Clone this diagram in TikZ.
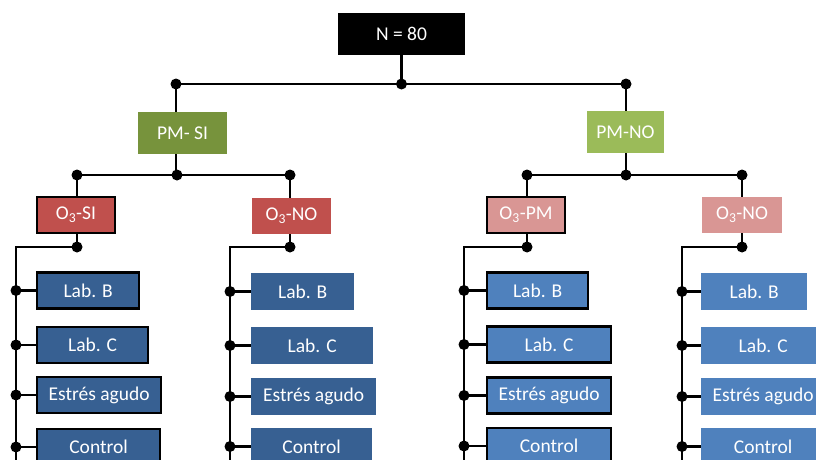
\documentclass[tikz,border=0pt]{standalone}
\usepackage{fontspec}
\setmainfont{Carlito}
\usetikzlibrary{backgrounds}
\definecolor{pmsi}{HTML}{77933C}
\definecolor{pmno}{HTML}{9BBB59}
\definecolor{ozdark}{HTML}{C0504D}
\definecolor{ozlight}{HTML}{D99694}
\definecolor{labdark}{HTML}{376092}
\definecolor{lablight}{HTML}{4F81BD}
\tikzset{box/.style = {text=white, inner sep=0pt, minimum height=36pt,
                       font=\fontsize{19.5}{23}\selectfont},
         edged/.style = {draw=black, line width=2.2pt},
         labbox/.style = {box, anchor=west},
         link/.style = {line width=2.4pt},
         dot/.style = {fill=black}}

\begin{document}
\begin{tikzpicture}[x=1pt,y=-1pt]
\useasboundingbox (0,0) rectangle (816,460);

% top
\node[box, fill=black, minimum width=127pt, minimum height=42pt] (root) at (401.5,34) {N = 80};
\coordinate (j0) at (401.5,84);
\coordinate (jl) at (176,84);
\coordinate (jr) at (626,84);

\node[box, fill=pmsi, minimum width=89pt, minimum height=42pt] (pmsi) at (182.5,133) {PM- SI};
\node[box, fill=pmno, minimum width=77pt, minimum height=42pt] (pmno) at (625.5,132) {PM-NO};

\coordinate (kl) at (177,175);
\coordinate (kl1) at (77,175);
\coordinate (kl2) at (290,175);
\coordinate (kr) at (626,175);
\coordinate (kr1) at (527,175);
\coordinate (kr2) at (742,175);

\node[box, edged, fill=ozdark, minimum width=78pt] (osi) at (76,215) {O\textsubscript{3}-SI};
\node[box, fill=ozdark, minimum width=79pt] (onol) at (291.5,215.5) {O\textsubscript{3}-NO};
\node[box, edged, fill=ozlight, minimum width=78pt] (opm) at (526,215) {O\textsubscript{3}-PM};
\node[box, fill=ozlight, minimum width=80pt] (onor) at (742,215) {O\textsubscript{3}-NO};

\coordinate (a1) at (77,247);  \coordinate (b1) at (16,247);  \coordinate (e1) at (16,460);
\coordinate (a2) at (290,247); \coordinate (b2) at (230,247); \coordinate (e2) at (230,460);
\coordinate (a3) at (527,247); \coordinate (b3) at (464,247); \coordinate (e3) at (464,460);
\coordinate (a4) at (742,247); \coordinate (b4) at (682,247); \coordinate (e4) at (682,460);

% PM- SI, O3-SI
\node[labbox, edged, fill=labdark, minimum width=102pt] (lb1) at (36,290.5) {Lab. B};
\node[labbox, edged, fill=labdark, minimum width=111pt] (lc1) at (36,345) {Lab. C};
\node[labbox, edged, fill=labdark, minimum width=124pt] (ea1) at (36,395) {Estrés agudo};
\node[labbox, edged, fill=labdark, minimum width=123pt] (ct1) at (36,447) {Control};

% PM- SI, O3-NO
\node[labbox, fill=labdark, minimum width=103pt, minimum height=37pt] (lb2) at (251,291.5) {Lab. B};
\node[labbox, fill=labdark, minimum width=122pt, minimum height=37pt] (lc2) at (251,345.5) {Lab. C};
\node[labbox, fill=labdark, minimum width=125pt, minimum height=37pt] (ea2) at (251,396.5) {Estrés agudo};
\node[labbox, fill=labdark, minimum width=121pt, minimum height=37pt] (ct2) at (251,446.5) {Control};

% PM-NO, O3-PM
\node[labbox, edged, fill=lablight, minimum width=101pt] (lb3) at (486,290.5) {Lab. B};
\node[labbox, edged, fill=lablight, minimum width=124pt] (lc3) at (486,344.5) {Lab. C};
\node[labbox, edged, fill=lablight, minimum width=124pt] (ea3) at (486,395.5) {Estrés agudo};
\node[labbox, edged, fill=lablight, minimum width=124pt] (ct3) at (486,446) {Control};

% PM-NO, O3-NO
\node[labbox, fill=lablight, minimum width=106pt, minimum height=37pt] (lb4) at (701,291.5) {Lab. B};
\node[labbox, fill=lablight, minimum width=124pt, minimum height=37pt] (lc4) at (701,345.5) {Lab. C};
\node[labbox, fill=lablight, minimum width=124pt, minimum height=37pt] (ea4) at (701,396.5) {Estrés agudo};
\node[labbox, fill=lablight, minimum width=124pt, minimum height=37pt] (ct4) at (701,446.5) {Control};

\begin{scope}[on background layer]
\draw[link] (root) -- (j0);
\draw[link] (jl) -- (jr);
\draw[link] (jl) -- (jl |- kl);
\draw[link] (jr) -- (kr);
\draw[link] (kl1) -- (kl2);
\draw[link] (kr1) -- (kr2);
\draw[link] (kl1) -- (a1) -- (b1) -- (e1);
\draw[link] (kl2) -- (a2) -- (b2) -- (e2);
\draw[link] (kr1) -- (a3) -- (b3) -- (e3);
\draw[link] (kr2) -- (a4) -- (b4) -- (e4);
\end{scope}

% stubs
\draw[link] (b1 |- lb1) -- (lb1); \draw[link] (b1 |- lc1) -- (lc1);
\draw[link] (b1 |- ea1) -- (ea1); \draw[link] (b1 |- ct1) -- (ct1);
\draw[link] (b2 |- lb2) -- (lb2); \draw[link] (b2 |- lc2) -- (lc2);
\draw[link] (b2 |- ea2) -- (ea2); \draw[link] (b2 |- ct2) -- (ct2);
\draw[link] (b3 |- lb3) -- (lb3); \draw[link] (b3 |- lc3) -- (lc3);
\draw[link] (b3 |- ea3) -- (ea3); \draw[link] (b3 |- ct3) -- (ct3);
\draw[link] (b4 |- lb4) -- (lb4); \draw[link] (b4 |- lc4) -- (lc4);
\draw[link] (b4 |- ea4) -- (ea4); \draw[link] (b4 |- ct4) -- (ct4);

% dots
\foreach \p in {j0,jl,jr,kl,kl1,kl2,kr,kr1,kr2,a1,a2,a3,a4}
  \fill[dot] (\p) circle (5.5pt);
\foreach \n in {lb,lc,ea,ct}
  \foreach \c in {1,2,3,4}
    \fill[dot] (b\c |- \n\c) circle (5.5pt);
\end{tikzpicture}
\end{document}
